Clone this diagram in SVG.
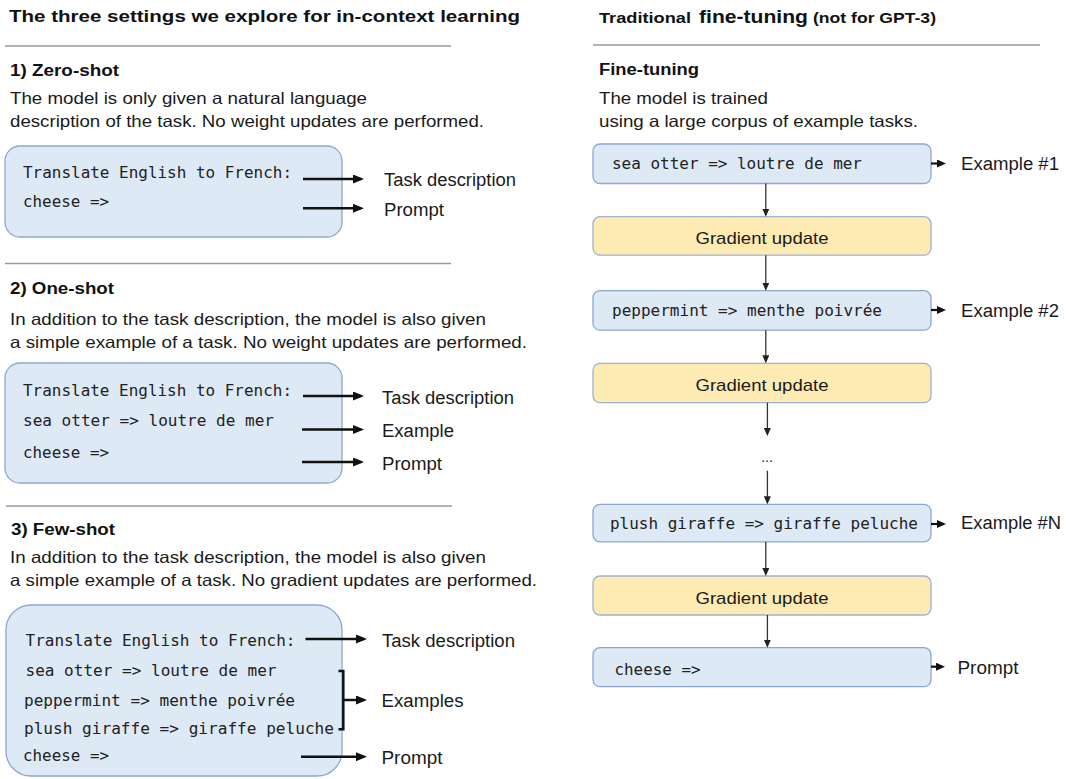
<svg xmlns="http://www.w3.org/2000/svg" width="1066" height="779" viewBox="0 0 1066 779">
<defs>
<style>
.title{font-family:"Liberation Sans",Arial,sans-serif;font-weight:bold;font-size:17px;fill:#111}
.head{font-family:"Liberation Sans",Arial,sans-serif;font-weight:bold;font-size:16px;fill:#111}
.body{font-family:"Liberation Sans",Arial,sans-serif;font-size:16.5px;fill:#1a1a1a}
.lab{font-family:"Liberation Sans",Arial,sans-serif;font-size:18px;fill:#1a1a1a}
.grad{font-family:"Liberation Sans",Arial,sans-serif;font-size:17px;fill:#1a1a1a}
.mono{font-family:"DejaVu Sans Mono","Liberation Mono",monospace;font-size:15.5px;fill:#222}
.rule{stroke:#9a9a9a;stroke-width:1.5}
.bigbox{fill:#dee9f6;stroke:#8ea7d0;stroke-width:1.3}
.box{fill:#dee9f6;stroke:#8ea7d0;stroke-width:1.3}
.gbox{fill:#fdebb3;stroke:#9fb1d2;stroke-width:1.3}
.thick{stroke:#111;stroke-width:2.5;fill:none;marker-end:url(#ah)}
.med{stroke:#111;stroke-width:2.2;fill:none;marker-end:url(#am)}
.thin{stroke:#333;stroke-width:1.3;fill:none;marker-end:url(#at)}
</style>
<marker id="ah" markerUnits="userSpaceOnUse" markerWidth="11" markerHeight="9" refX="8" refY="4.5" orient="auto"><path d="M0,0 L11,4.5 L0,9 z" fill="#111"/></marker>
<marker id="am" markerUnits="userSpaceOnUse" markerWidth="9" markerHeight="8" refX="6" refY="4" orient="auto"><path d="M0,0 L9,4 L0,8 z" fill="#111"/></marker>
<marker id="at" markerUnits="userSpaceOnUse" markerWidth="8" markerHeight="7" refX="6" refY="3.5" orient="auto"><path d="M0,0 L8,3.5 L0,7 z" fill="#222"/></marker>
</defs>
<rect width="1066" height="779" fill="#fff"/>

<g id="left-title">
<text class="title" x="9" y="21.5" textLength="511" lengthAdjust="spacingAndGlyphs">The three settings we explore for in-context learning</text>
<line class="rule" x1="5" y1="46" x2="451" y2="46"/>
</g>

<g id="zero-shot">
<text class="head" x="10" y="76" textLength="109" lengthAdjust="spacingAndGlyphs">1) Zero-shot</text>
<text class="body" x="10" y="104" textLength="357" lengthAdjust="spacingAndGlyphs">The model is only given a natural language</text>
<text class="body" x="10" y="127" textLength="474" lengthAdjust="spacingAndGlyphs">description of the task. No weight updates are performed.</text>
<rect class="bigbox" x="5" y="146" width="337" height="91" rx="15"/>
<text class="mono" x="23" y="177.5" textLength="269" lengthAdjust="spacingAndGlyphs">Translate English to French:</text>
<text class="mono" x="23" y="207" textLength="86" lengthAdjust="spacingAndGlyphs">cheese =&gt;</text>
<text class="lab" x="384" y="185.5" textLength="132" lengthAdjust="spacingAndGlyphs">Task description</text>
<text class="lab" x="384" y="215.5" textLength="60" lengthAdjust="spacingAndGlyphs">Prompt</text>
</g>

<g id="one-shot">
<line class="rule" x1="5" y1="263.5" x2="451" y2="263.5"/>
<text class="head" x="10" y="294" textLength="104" lengthAdjust="spacingAndGlyphs">2) One-shot</text>
<text class="body" x="10" y="325" textLength="476" lengthAdjust="spacingAndGlyphs">In addition to the task description, the model is also given</text>
<text class="body" x="10" y="348" textLength="517" lengthAdjust="spacingAndGlyphs">a simple example of a task. No weight updates are performed.</text>
<rect class="bigbox" x="5" y="363" width="337" height="120" rx="15"/>
<text class="mono" x="23" y="395.5" textLength="269" lengthAdjust="spacingAndGlyphs">Translate English to French:</text>
<text class="mono" x="23" y="425.5" textLength="251" lengthAdjust="spacingAndGlyphs">sea otter =&gt; loutre de mer</text>
<text class="mono" x="23" y="458" textLength="86" lengthAdjust="spacingAndGlyphs">cheese =&gt;</text>
<text class="lab" x="382" y="404" textLength="132" lengthAdjust="spacingAndGlyphs">Task description</text>
<text class="lab" x="382" y="436.5" textLength="72" lengthAdjust="spacingAndGlyphs">Example</text>
<text class="lab" x="382" y="470" textLength="60" lengthAdjust="spacingAndGlyphs">Prompt</text>
</g>

<g id="few-shot">
<line class="rule" x1="6" y1="506" x2="452" y2="506"/>
<text class="head" x="11" y="535" textLength="104" lengthAdjust="spacingAndGlyphs">3) Few-shot</text>
<text class="body" x="10" y="563" textLength="476" lengthAdjust="spacingAndGlyphs">In addition to the task description, the model is also given</text>
<text class="body" x="10" y="586" textLength="527" lengthAdjust="spacingAndGlyphs">a simple example of a task. No gradient updates are performed.</text>
<rect class="bigbox" x="6" y="605" width="336" height="171" rx="25"/>
<text class="mono" x="25.5" y="645.5" textLength="270" lengthAdjust="spacingAndGlyphs">Translate English to French:</text>
<text class="mono" x="25.5" y="675.5" textLength="251" lengthAdjust="spacingAndGlyphs">sea otter =&gt; loutre de mer</text>
<text class="mono" x="24" y="705.5" textLength="271" lengthAdjust="spacingAndGlyphs">peppermint =&gt; menthe poivrée</text>
<text class="mono" x="24" y="733.5" textLength="310" lengthAdjust="spacingAndGlyphs">plush giraffe =&gt; giraffe peluche</text>
<text class="mono" x="23" y="760.5" textLength="86" lengthAdjust="spacingAndGlyphs">cheese =&gt;</text>
<text class="lab" x="382" y="646.5" textLength="133" lengthAdjust="spacingAndGlyphs">Task description</text>
<text class="lab" x="381.5" y="707" textLength="82" lengthAdjust="spacingAndGlyphs">Examples</text>
<text class="lab" x="381.5" y="764" textLength="61" lengthAdjust="spacingAndGlyphs">Prompt</text>
</g>

<g id="right-title">
<text class="head" x="599" y="23" style="font-size:15.5px" textLength="92" lengthAdjust="spacingAndGlyphs">Traditional</text>
<text class="title" x="699" y="23" style="font-size:18px" textLength="109" lengthAdjust="spacingAndGlyphs">fine-tuning</text>
<text class="head" x="813" y="23" style="font-size:15.5px" textLength="123" lengthAdjust="spacingAndGlyphs">(not for GPT-3)</text>
<line class="rule" x1="593" y1="45" x2="1040" y2="45"/>
<text class="head" x="599" y="75" textLength="100" lengthAdjust="spacingAndGlyphs">Fine-tuning</text>
<text class="body" x="599" y="103.5" textLength="169" lengthAdjust="spacingAndGlyphs">The model is trained</text>
<text class="body" x="599" y="127" textLength="319" lengthAdjust="spacingAndGlyphs">using a large corpus of example tasks.</text>
</g>

<g id="ex1">
<rect class="box" x="593" y="144" width="338" height="39.5" rx="7"/>
<text class="mono" x="612" y="169" textLength="250" lengthAdjust="spacingAndGlyphs">sea otter =&gt; loutre de mer</text>
<text class="lab" x="961" y="170" textLength="98" lengthAdjust="spacingAndGlyphs">Example #1</text>
</g>
<g id="grad1">
<rect class="gbox" x="593" y="216.7" width="338" height="38.5" rx="7"/>
<text class="grad" x="762" y="244" text-anchor="middle" textLength="133" lengthAdjust="spacingAndGlyphs">Gradient update</text>
</g>
<g id="ex2">
<rect class="box" x="593" y="290.7" width="338" height="39.5" rx="7"/>
<text class="mono" x="612" y="315.5" textLength="270" lengthAdjust="spacingAndGlyphs">peppermint =&gt; menthe poivrée</text>
<text class="lab" x="961" y="317" textLength="98" lengthAdjust="spacingAndGlyphs">Example #2</text>
</g>
<g id="grad2">
<rect class="gbox" x="593" y="363.3" width="338" height="39.4" rx="7"/>
<text class="grad" x="762" y="390.5" text-anchor="middle" textLength="133" lengthAdjust="spacingAndGlyphs">Gradient update</text>
</g>
<g id="dots">
<text class="body" x="767" y="462" text-anchor="middle" style="font-size:14px">...</text>
</g>
<g id="exN">
<rect class="box" x="593" y="504.3" width="338" height="37.5" rx="7"/>
<text class="mono" x="610" y="529" textLength="308" lengthAdjust="spacingAndGlyphs">plush giraffe =&gt; giraffe peluche</text>
<text class="lab" x="961" y="529" textLength="100" lengthAdjust="spacingAndGlyphs">Example #N</text>
</g>
<g id="grad3">
<rect class="gbox" x="593" y="576" width="338" height="39" rx="7"/>
<text class="grad" x="762" y="603.5" text-anchor="middle" textLength="133" lengthAdjust="spacingAndGlyphs">Gradient update</text>
</g>
<g id="prompt">
<rect class="box" x="593" y="647.7" width="338" height="39" rx="7"/>
<text class="mono" x="614.5" y="674.5" textLength="86" lengthAdjust="spacingAndGlyphs">cheese =&gt;</text>
<text class="lab" x="957.5" y="673.5" textLength="61" lengthAdjust="spacingAndGlyphs">Prompt</text>
</g>

<g id="connectors">
<line class="thick" x1="303" y1="179" x2="361" y2="179"/>
<line class="thick" x1="303" y1="208.3" x2="361" y2="208.3"/>
<line class="thick" x1="303" y1="396" x2="361" y2="396"/>
<line class="thick" x1="302" y1="429.5" x2="361" y2="429.5"/>
<line class="thick" x1="302" y1="462" x2="361" y2="462"/>
<line class="thick" x1="305.5" y1="639" x2="364" y2="639"/>
<path d="M338.5,671 H343.3 V729.3 H338.5" stroke="#111" stroke-width="2.5" fill="none"/>
<line class="thick" x1="343.3" y1="700" x2="364" y2="700"/>
<line class="thick" x1="301" y1="756.7" x2="364" y2="756.7"/>
<line class="med" x1="931" y1="163.5" x2="943" y2="163.5"/>
<line class="med" x1="931" y1="310" x2="943" y2="310"/>
<line class="med" x1="931" y1="524" x2="943" y2="524"/>
<line class="med" x1="931" y1="666.7" x2="942" y2="666.7"/>
<line class="thin" x1="765.8" y1="183.5" x2="765.8" y2="214.7"/>
<line class="thin" x1="765.8" y1="255.2" x2="765.8" y2="288.7"/>
<line class="thin" x1="765.8" y1="330.2" x2="765.8" y2="361.3"/>
<line class="thin" x1="767.4" y1="402.7" x2="767.4" y2="434"/>
<line class="thin" x1="767.4" y1="470.7" x2="767.4" y2="502.3"/>
<line class="thin" x1="765.8" y1="541.8" x2="765.8" y2="574"/>
<line class="thin" x1="767.4" y1="615" x2="767.4" y2="645.7"/>
</g>
</svg>
